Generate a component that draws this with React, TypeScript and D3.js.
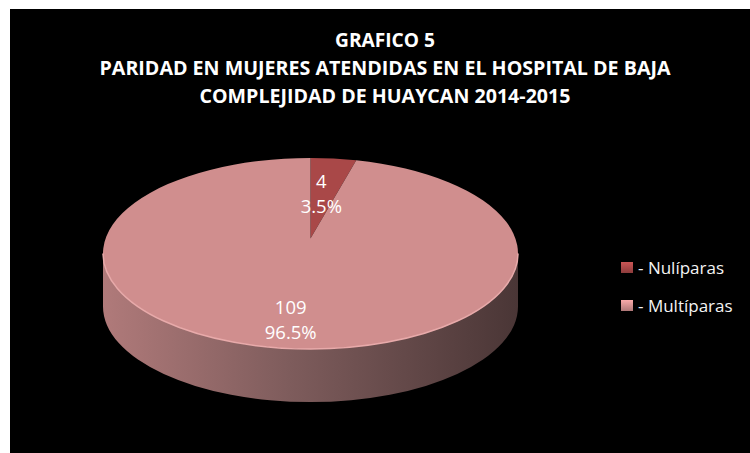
import React from "react";
import * as d3 from "d3";

// chart data
const categories = ["Nulíparas", "Multíparas"];
const counts = [4, 109];
const sliceColors = ["#a94848", "#d08e8e"];
const titleLines = [
  "GRAFICO 5",
  "PARIDAD EN MUJERES ATENDIDAS EN EL HOSPITAL DE BAJA",
  "COMPLEJIDAD DE HUAYCAN 2014-2015",
];

const W = 750;
const H = 453;

export default function App() {
  // 3d-ish pie geometry
  const cx = 310.5;
  const cy = 253.5;
  const rx = 207.5;
  const ry = 95.5;
  const depth = 53;
  const apex: [number, number] = [cx, cy - 15];

  const total = d3.sum(counts);
  const arcs = d3.pie<number>().sort(null)(counts);

  const pt = (a: number, k = 1): [number, number] => [
    cx + rx * k * Math.sin(a),
    cy - ry * k * Math.cos(a),
  ];

  const slicePath = (a0: number, a1: number) => {
    const p0 = pt(a0);
    const p1 = pt(a1);
    const large = a1 - a0 > Math.PI ? 1 : 0;
    return `M${apex[0]},${apex[1]} L${p0[0]},${p0[1]} A${rx},${ry} 0 ${large} 1 ${p1[0]},${p1[1]} Z`;
  };

  // front side of the cylinder
  const sidePath = `M${cx - rx},${cy} L${cx - rx},${cy + depth} A${rx},${ry} 0 0 0 ${cx + rx},${cy + depth} L${cx + rx},${cy} A${rx},${ry} 0 0 1 ${cx - rx},${cy} Z`;
  const rimPath = `M${cx - rx},${cy} A${rx},${ry} 0 0 0 ${cx + rx},${cy}`;

  const pct = d3.format(".1%");
  const font = "'Open Sans', 'Liberation Sans', sans-serif";

  return (
    <svg
      width={W}
      height={H}
      style={{ position: "absolute", left: 0, top: 0 }}
    >
      <defs>
        <linearGradient id="side" x1="0" x2="1" y1="0" y2="0">
          <stop offset="0%" stopColor="#b07a7a" />
          <stop offset="45%" stopColor="#7e5c5c" />
          <stop offset="100%" stopColor="#4a3636" />
        </linearGradient>
        {sliceColors.map((c, i) => (
          <linearGradient key={i} id={`mk${i}`} x1="0" x2="0" y1="0" y2="1">
            <stop offset="0%" stopColor={d3.color(c)!.brighter(0.5).formatHex()} />
            <stop offset="100%" stopColor={d3.color(c)!.darker(0.5).formatHex()} />
          </linearGradient>
        ))}
      </defs>

      <rect x={0} y={0} width={W} height={H} fill="#ffffff" />
      <rect x={10} y={9} width={W - 10} height={H - 9} fill="#000000" />

      {/* title */}
      <g fontFamily={font} fontWeight="bold" fill="#ffffff" textAnchor="middle">
        {titleLines.map((t, i) => (
          <text
            key={i}
            x={385}
            y={47 + i * 28}
            fontSize={20}
            textLength={i === 0 ? 100 : i === 1 ? 571 : 371}
            lengthAdjust="spacingAndGlyphs"
          >
            {t}
          </text>
        ))}
      </g>

      {/* pie */}
      <path d={sidePath} fill="url(#side)" />
      {arcs.map((d, i) => (
        <path
          key={i}
          d={slicePath(d.startAngle, d.endAngle)}
          fill={sliceColors[i]}
        />
      ))}
      <path d={rimPath} fill="none" stroke="#e8aaaa" strokeWidth={1.5} />

      {/* data labels */}
      <g fontFamily={font} fontSize={18.5} fill="#ffffff" textAnchor="middle">
        {arcs.map((d, i) => {
          const mid = (d.startAngle + d.endAngle) / 2;
          const k = d.endAngle - d.startAngle < Math.PI ? 0.47 : 0.86;
          const x = apex[0] + rx * k * Math.sin(mid);
          const y = apex[1] - ry * k * Math.cos(mid);
          return (
            <g key={i}>
              <text x={x} y={y - 6}>
                {counts[i]}
              </text>
              <text x={x} y={y + 19}>
                {pct(counts[i] / total)}
              </text>
            </g>
          );
        })}
      </g>

      {/* legend */}
      <g fontFamily={font} fontSize={17} fill="#f4f4f4">
        {categories.map((c, i) => (
          <g key={c} transform={`translate(621,${262 + i * 38})`}>
            <rect width={12} height={11} fill={`url(#mk${i})`} />
            <text x={17} y={11.5}>
              - {c}
            </text>
          </g>
        ))}
      </g>
    </svg>
  );
}
